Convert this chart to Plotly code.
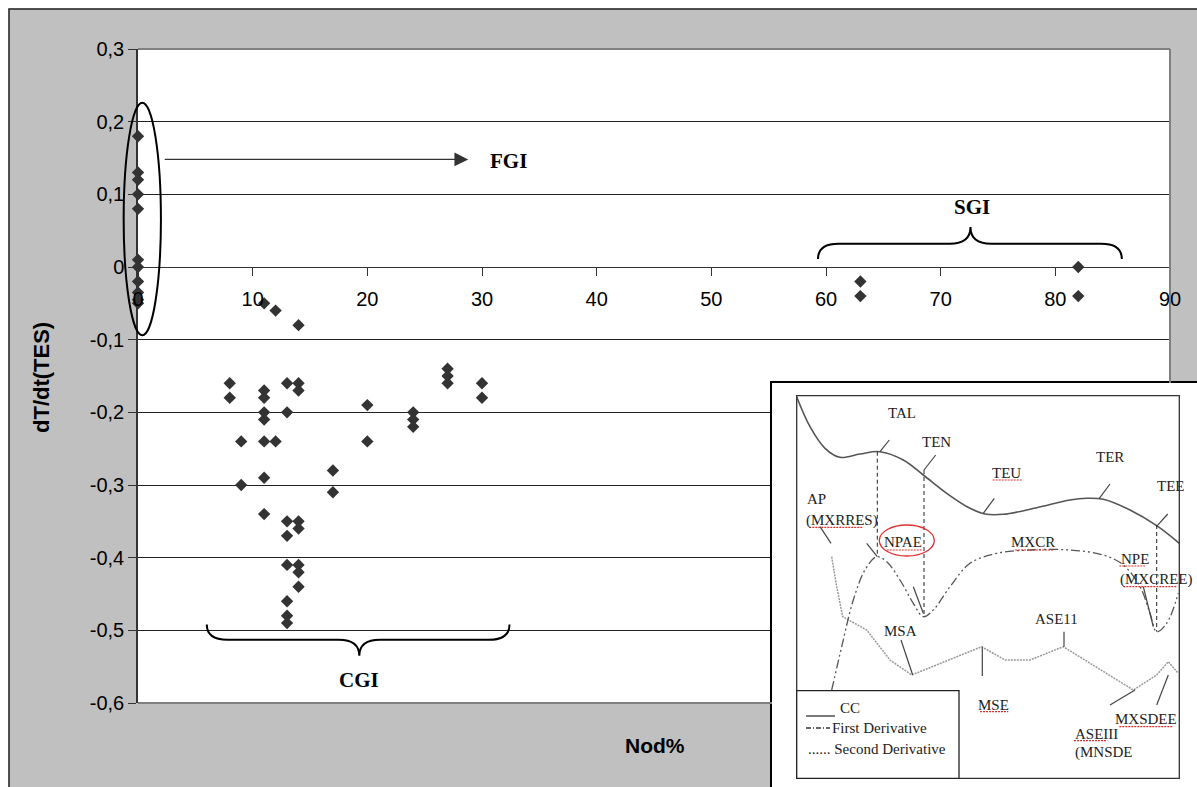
import plotly.graph_objects as go

W, H = 1197, 787

# ---------------- main chart data ----------------
fgi_nod = [0, 0, 0, 0, 0, 0, 0, 0, 0, 0, 0]
fgi_dt = [0.18, 0.13, 0.12, 0.10, 0.08, 0.01, 0.0, -0.02, -0.035, -0.045, -0.05]

cgi_nod = [11, 12, 14,
           8, 8,
           9, 9,
           11, 11, 11, 11, 11, 11, 11,
           12,
           13, 13, 13, 13, 13, 13, 13, 13,
           14, 14, 14, 14, 14, 14, 14,
           17, 17,
           20, 20,
           24, 24, 24,
           27, 27, 27,
           30, 30]
cgi_dt = [-0.05, -0.06, -0.08,
          -0.16, -0.18,
          -0.24, -0.30,
          -0.17, -0.18, -0.20, -0.21, -0.24, -0.29, -0.34,
          -0.24,
          -0.16, -0.20, -0.35, -0.37, -0.41, -0.46, -0.48, -0.49,
          -0.16, -0.17, -0.35, -0.36, -0.41, -0.42, -0.44,
          -0.28, -0.31,
          -0.19, -0.24,
          -0.20, -0.21, -0.22,
          -0.14, -0.15, -0.16,
          -0.16, -0.18]

sgi_nod = [63, 63, 82, 82]
sgi_dt = [-0.02, -0.04, 0.0, -0.04]

x_ticks = [0, 10, 20, 30, 40, 50, 60, 70, 80, 90]
x_ticklabels = ["0", "10", "20", "30", "40", "50", "60", "70", "80", "90"]
y_ticks = [0.3, 0.2, 0.1, 0.0, -0.1, -0.2, -0.3, -0.4, -0.5, -0.6]
y_ticklabels = ["0,3", "0,2", "0,1", "0", "-0,1", "-0,2", "-0,3", "-0,4", "-0,5", "-0,6"]

x_title = "Nod%"
y_title = "dT/dt(TES)"

# group labels
grp_labels = ["FGI", "CGI", "SGI"]

# ---------------- inset schematic (inset units) ----------------
cc_x = [24.7, 38, 53, 68, 88, 108, 131.3, 151.3, 174.7, 198, 213, 231.3, 264.7, 298, 314.7, 331.3, 358, 384.7, 407.3]
cc_y = [13.7, 43.7, 65.3, 74.3, 71, 68.7, 77, 92, 110.3, 125.3, 131, 131.3, 124.7, 117, 115.3, 116.3, 127, 142.7, 160.3]

d1_x = [59.7, 69.7, 81.3, 93, 104.7, 114.7, 128, 141.3, 151.3, 161.3, 178, 198, 224.7, 258, 298, 331.3, 351.3, 368, 378, 384.7, 394.7, 406.3]
d1_y = [307, 263.7, 217, 187, 173.7, 178.7, 197, 220.3, 233.7, 227, 203.7, 180.3, 170.3, 167, 167, 172, 182, 203.7, 230.3, 248.7, 240.3, 210.3]

d2_x = [59.7, 64.7, 70.7, 94.7, 118, 139.7, 209.7, 233, 258, 291.3, 361.3, 384.7, 396.3, 406.3]
d2_y = [173.7, 203.7, 233.7, 247, 277, 292, 263.7, 277, 277, 263.7, 307, 292, 278.7, 290.3]

vdash_x = [105.3, 152, 384.7]
vdash_top = [68.7, 87, 142]
vdash_bot = [173.7, 233.7, 248.7]

leader_x0 = [108, 152, 211.3, 327.3, 385.3, 48, 94.7, 141.3, 129, 210.3, 292, 338, 396.3, 371.3]
leader_y0 = [68.7, 87, 130.3, 115.3, 142.7, 143.7, 160.3, 203.7, 257, 263.7, 248.7, 322, 292, 203.7]
leader_x1 = [117.3, 163.7, 222.3, 338, 395.7, 59, 105.3, 151.3, 140.7, 210.3, 292, 363, 384.7, 381.3]
leader_y1 = [57, 72, 115.3, 101, 131, 160.3, 173.7, 230.3, 292, 293, 263.7, 307, 322, 243.7]

lab_text = ["TAL", "TEN", "TEU", "TER", "NPAE", "MXCR", "MSA", "ASE11", "MSE", "MXSDEE"]
lab_x = [129.7, 164.7, 234.7, 338, 131.3, 261.3, 128.7, 284.7, 221.3, 374]
lab_y = [30.3, 59.3, 89.7, 74.3, 158.7, 159.3, 247.7, 236.3, 322, 336]

labl_text = ["TEE", "AP", "(MXRRES)", "NPE", "(MXCREE)", "ASEIII", "(MNSDE"]
labl_x = [383, 33, 32.3, 347.3, 346.3, 301.3, 300.7]
labl_y = [103, 116, 137, 176, 196.3, 351, 369.3]

sq_x0 = [220.7, 37.3, 114.7, 243, 347.3, 351.3, 208, 347.3, 302]
sq_x1 = [249.7, 91.3, 149.7, 281.3, 373, 405.3, 236.3, 401.3, 335.3]
sq_y = [97, 144.3, 167, 167, 183, 203.7, 328.7, 343.7, 357.7]

leg_text = ["CC", "First Derivative", "...... Second Derivative"]
leg_tx = [65.7, 58, 34]
leg_ty = [324.7, 345.3, 366]

# ---------------- geometry ----------------
XR = [0, 90]
YR = [-0.6, 0.3]
XD = [138 / W, 1170 / W]
YD = [1 - 703 / H, 1 - 49 / H]
IXD = [772 / W, 1.0]
IYD = [0.0, 1 - 383 / H]


def PX(v):
    return XD[0] + (v - XR[0]) / (XR[1] - XR[0]) * (XD[1] - XD[0])


def PY(v):
    return YD[0] + (v - YR[0]) / (YR[1] - YR[0]) * (YD[1] - YD[0])


def brace(x0, x1, xm, ye, yl, yt, r, rm):
    return (f"M {PX(x0)},{PY(ye)} Q {PX(x0)},{PY(yl)} {PX(x0 + r)},{PY(yl)} "
            f"L {PX(xm - rm)},{PY(yl)} Q {PX(xm)},{PY(yl)} {PX(xm)},{PY(yt)} "
            f"Q {PX(xm)},{PY(yl)} {PX(xm + rm)},{PY(yl)} "
            f"L {PX(x1 - r)},{PY(yl)} Q {PX(x1)},{PY(yl)} {PX(x1)},{PY(ye)}")


fig = go.Figure()

mk = dict(symbol="diamond", size=9.5, color="#333333", line=dict(width=0))
fig.add_trace(go.Scatter(x=fgi_nod, y=fgi_dt, mode="markers", marker=mk, cliponaxis=False))
fig.add_trace(go.Scatter(x=cgi_nod, y=cgi_dt, mode="markers", marker=mk, cliponaxis=False))
fig.add_trace(go.Scatter(x=sgi_nod, y=sgi_dt, mode="markers", marker=mk, cliponaxis=False))

# ---- inset traces ----
def seg(xs0, ys0, xs1, ys1):
    xx, yy = [], []
    for a, b, c, d in zip(xs0, ys0, xs1, ys1):
        xx += [a, c, None]
        yy += [b, d, None]
    return xx, yy

ix = dict(xaxis="x2", yaxis="y2", mode="lines", hoverinfo="skip")
fig.add_trace(go.Scatter(x=d2_x, y=d2_y, line=dict(color="#9a9a9a", width=1.5, dash="2px,1px"), **ix))
fig.add_trace(go.Scatter(x=d1_x, y=d1_y, line=dict(color="#555555", width=1.3, dash="9px,3px,2px,3px,2px,3px"), line_shape="spline", **ix))
fig.add_trace(go.Scatter(x=cc_x, y=cc_y, line=dict(color="#555555", width=1.6), line_shape="spline", **ix))
vx, vy = seg(vdash_x, vdash_top, vdash_x, vdash_bot)
fig.add_trace(go.Scatter(x=vx, y=vy, line=dict(color="#222222", width=1, dash="4px,3px"), **ix))
lx, ly = seg(leader_x0, leader_y0, leader_x1, leader_y1)
fig.add_trace(go.Scatter(x=lx, y=ly, line=dict(color="#444444", width=1.2), **ix))
sx, sy = seg(sq_x0, sq_y, sq_x1, sq_y)
fig.add_trace(go.Scatter(x=sx, y=sy, line=dict(color="#e03030", width=1.2, dash="2px,1px"), **ix))

shapes = []
# outer frame / white outside strip
shapes.append(dict(type="rect", xref="paper", yref="paper", x0=0, x1=8.5 / W, y0=0, y1=1,
                   fillcolor="white", line=dict(width=0), layer="below"))
shapes.append(dict(type="rect", xref="paper", yref="paper", x0=0, x1=1, y0=1 - 8.5 / H, y1=1,
                   fillcolor="white", line=dict(width=0), layer="below"))
shapes.append(dict(type="rect", xref="paper", yref="paper", x0=9 / W, x1=1.02, y0=-0.02, y1=1 - 9 / H,
                   line=dict(color="#222222", width=1.5), layer="below"))
# plot area border (top, right, bottom)
shapes.append(dict(type="line", xref="paper", yref="paper", x0=XD[0], x1=XD[1], y0=YD[1], y1=YD[1],
                   line=dict(color="#808080", width=2)))
shapes.append(dict(type="line", xref="paper", yref="paper", x0=XD[1], x1=XD[1], y0=YD[1], y1=IYD[1],
                   line=dict(color="#808080", width=2)))
shapes.append(dict(type="line", xref="paper", yref="paper", x0=XD[0], x1=IXD[0], y0=YD[0], y1=YD[0],
                   line=dict(color="#808080", width=2)))
# ellipse around FGI
shapes.append(dict(type="circle", xref="paper", yref="paper", x0=PX(-1.25), x1=PX(2.0),
                   y0=PY(-0.094), y1=PY(0.226), line=dict(color="black", width=2)))
# braces
shapes.append(dict(type="path", xref="paper", yref="paper",
                   path=brace(6.0, 32.4, 19.3, -0.492, -0.513, -0.535, 1.8, 1.8),
                   line=dict(color="black", width=2)))
shapes.append(dict(type="path", xref="paper", yref="paper",
                   path=brace(59.3, 85.8, 72.6, 0.011, 0.032, 0.055, 1.8, 1.8),
                   line=dict(color="black", width=2)))
# inset boxes
shapes.append(dict(type="rect", xref="x2", yref="y2", x0=24.7, x1=407.3, y0=12.7, y1=395.3,
                   line=dict(color="#333333", width=1.3)))
shapes.append(dict(type="rect", xref="x2", yref="y2", x0=24.7, x1=187, y0=307.7, y1=395.3,
                   line=dict(color="#222222", width=1.3), fillcolor="white"))
shapes.append(dict(type="circle", xref="x2", yref="y2", x0=107.3, x1=162.3, y0=142, y1=173,
                   line=dict(color="#e03030", width=1.3)))
# legend sample lines
shapes.append(dict(type="line", xref="x2", yref="y2", x0=34, x1=63, y0=333, y1=333,
                   line=dict(color="#333333", width=1.3)))
shapes.append(dict(type="line", xref="x2", yref="y2", x0=34, x1=58, y0=345, y1=345,
                   line=dict(color="#333333", width=1.3, dash="5px,2px,1px,2px")))

annotations = []
serif_b = dict(family="Liberation Serif", size=21, color="black")
annotations.append(dict(xref="x", yref="y", x=28.8, y=0.148, ax=2.2, ay=0.148, axref="x", ayref="y",
                        text="", showarrow=True, arrowhead=2, arrowsize=2.3, arrowwidth=1.2,
                        arrowcolor="#333333"))
annotations.append(dict(xref="x", yref="y", x=32.3, y=0.146, text="<b>" + grp_labels[0] + "</b>",
                        showarrow=False, font=serif_b))
annotations.append(dict(xref="x", yref="y", x=19.3, y=-0.568, text="<b>" + grp_labels[1] + "</b>",
                        showarrow=False, font=serif_b))
annotations.append(dict(xref="x", yref="y", x=72.7, y=0.083, text="<b>" + grp_labels[2] + "</b>",
                        showarrow=False, font=serif_b))
annotations.append(dict(xref="paper", yref="paper", x=655 / W, y=1 - 745 / H, text="<b>" + x_title + "</b>",
                        xanchor="center", yanchor="middle",
                        showarrow=False, font=dict(family="Liberation Sans", size=21, color="black")))
annotations.append(dict(xref="paper", yref="paper", x=42 / W, y=1 - 378 / H, text="<b>" + y_title + "</b>",
                        xanchor="center", yanchor="middle",
                        textangle=-90, showarrow=False,
                        font=dict(family="Liberation Sans", size=22, color="black")))

ifont = dict(family="Liberation Serif", size=15, color="#222222")
for t, x, y in zip(lab_text, lab_x, lab_y):
    annotations.append(dict(xref="x2", yref="y2", x=x, y=y, text=t, showarrow=False, font=ifont,
                            xanchor="center", yanchor="middle"))
for t, x, y in zip(labl_text, labl_x, labl_y):
    annotations.append(dict(xref="x2", yref="y2", x=x, y=y, text=t, showarrow=False, font=ifont,
                            xanchor="left", yanchor="middle"))
for t, x, y in zip(leg_text, leg_tx, leg_ty):
    annotations.append(dict(xref="x2", yref="y2", x=x, y=y, text=t, showarrow=False, font=ifont,
                            xanchor="left", yanchor="middle"))

fig.update_layout(
    width=W, height=H, autosize=False,
    margin=dict(l=0, r=0, t=0, b=0, pad=0),
    paper_bgcolor="#c0c0c0", plot_bgcolor="white",
    showlegend=False,
    xaxis=dict(domain=XD, range=XR, anchor="free", position=PY(0), automargin=False,
               tickvals=x_ticks, ticktext=x_ticklabels, ticks="outside", ticklen=8,
               tickcolor="#333333", showline=True, linecolor="#333333", linewidth=1,
               showgrid=False, zeroline=False, ticklabelstandoff=6,
               tickfont=dict(family="Liberation Sans", size=20, color="black")),
    yaxis=dict(domain=YD, range=YR, tickvals=y_ticks, ticktext=y_ticklabels, automargin=False,
               ticks="outside", ticklen=8, tickcolor="#333333",
               showline=True, linecolor="#333333", linewidth=1.5,
               showgrid=True, gridcolor="#222222", gridwidth=1, zeroline=False,
               tickfont=dict(family="Liberation Sans", size=20, color="black")),
    xaxis2=dict(domain=IXD, range=[0, W - 772], anchor="y2", showgrid=False, zeroline=False,
                automargin=False,
                showticklabels=False, ticks="", showline=True, mirror=True, linecolor="black", linewidth=2),
    yaxis2=dict(domain=IYD, range=[H - 383, 0], anchor="x2", showgrid=False, zeroline=False,
                automargin=False,
                showticklabels=False, ticks="", showline=True, mirror=True, linecolor="black", linewidth=2),
    shapes=shapes, annotations=annotations,
)

fig.write_html("out.html")
